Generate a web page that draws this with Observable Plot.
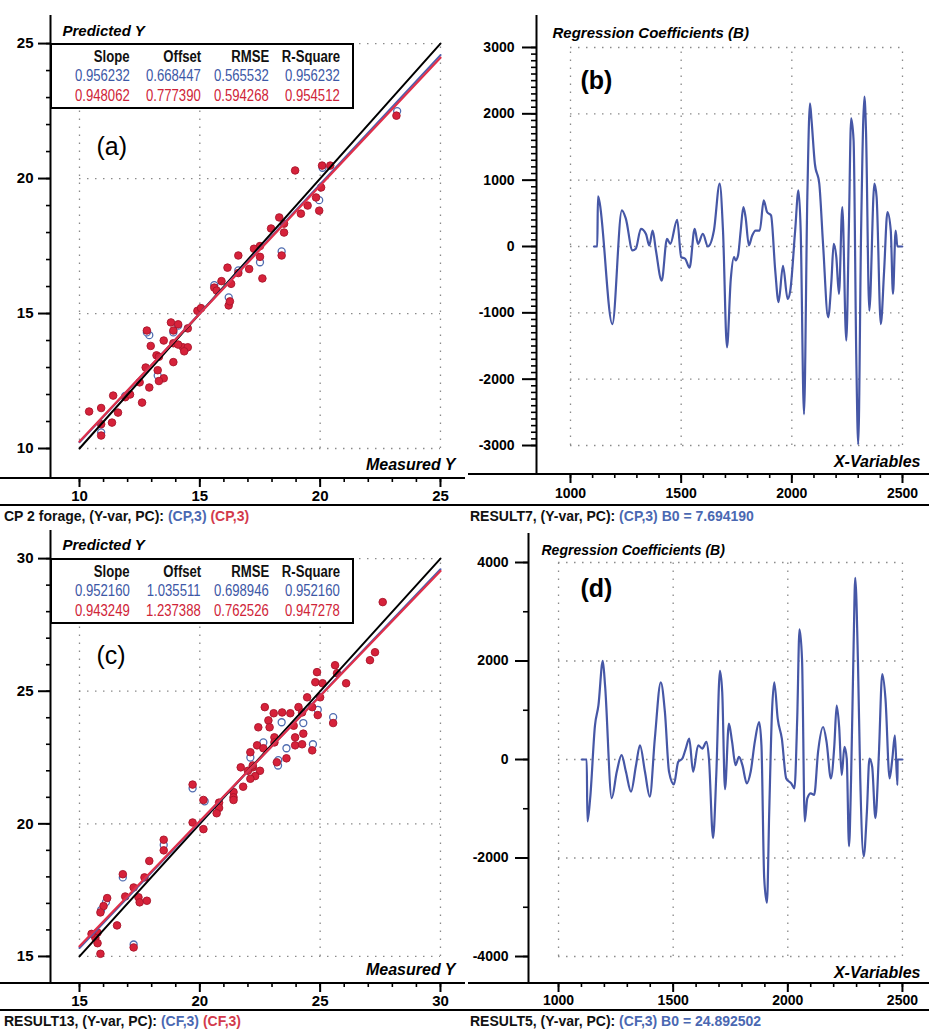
<!DOCTYPE html>
<html><head><meta charset="utf-8">
<script src="https://cdn.jsdelivr.net/npm/d3@7"></script>
<script src="https://cdn.jsdelivr.net/npm/@observablehq/plot@0.6"></script>
<style>
body{margin:0;background:#fff;}
#root{position:relative;width:929px;height:1031px;overflow:hidden;background:#fff;
  font-family:"Liberation Sans",Arial,sans-serif;}
.hl{position:absolute;height:2px;background:#000;}
.cap{position:absolute;font-weight:bold;font-size:14px;white-space:nowrap;line-height:16px;}
.stats{position:absolute;border:2px solid #000;background:#fff;box-sizing:border-box;}
.stats span{position:absolute;font-size:16px;line-height:17px;text-align:right;white-space:nowrap;
  transform:scaleX(0.82);transform-origin:right center;}
</style></head>
<body><div id="root"></div>
<script>
// ---------- data ----------
const statHeaders = ["Slope", "Offset", "RMSE", "R-Square"];
const statsA_cal = [0.956232, 0.668447, 0.565532, 0.956232];
const statsA_val = [0.948062, 0.777390, 0.594268, 0.954512];
const statsC_cal = [0.952160, 1.035511, 0.698946, 0.952160];
const statsC_val = [0.943249, 1.237388, 0.762526, 0.947278];

const aTicks = [10, 15, 20, 25];
const cTicks = [15, 20, 25, 30];
const bXTicks = [1000, 1500, 2000, 2500];
const bYTicks = [-3000, -2000, -1000, 0, 1000, 2000, 3000];
const dXTicks = [1000, 1500, 2000, 2500];
const dYTicks = [-4000, -2000, 0, 2000, 4000];

// panel (a): [measured, predicted]
const aRed = [[23.17,22.33],[18.96,20.30],[20.08,20.48],[20.42,20.48],[20.04,19.67],[19.83,19.30],[19.96,18.81],
 [19.48,19.0],[19.2,18.7],[18.3,18.56],[18.5,18.33],[18.5,18.0],[17.96,18.15],[17.5,17.5],[17.25,17.4],[18.4,17.15],
 [16.6,17.15],[17.5,17.1],[17.05,16.65],[16.6,16.5],[16.15,16.7],[17.6,16.3],[15.9,16.2],[15.6,15.96],[16.3,16.1],
 [15.7,15.85],[16.2,15.3],[16.25,15.45],[14.9,15.1],[13.8,14.67],[14.1,14.6],[14.5,14.45],[12.8,14.37],[13.9,14.37],
 [13.5,14.0],[12.96,13.8],[13.9,13.9],[14.3,13.75],[14.5,13.75],[14.35,13.6],[14.1,13.85],[13.2,13.45],[13.3,13.4],
 [13.9,13.2],[12.75,13.0],[13.25,12.9],[13.5,12.6],[13.3,12.5],[12.5,12.45],[12.9,12.26],[12.6,11.7],[11.9,11.9],
 [11.4,11.96],[11.6,11.33],[11.35,10.96],[10.9,11.5],[10.4,11.37],[10.9,10.9],[10.9,10.48],[12.1,12.0],[15.05,15.2]];
const aBlue = [[17.5,16.9],[16.2,15.6],[12.9,14.2],[19.96,19.2],[13.9,14.3],[14.1,14.55],[15.6,16.05],[13.25,12.7],
 [18.4,17.3],[20.1,20.4],[11.9,11.95],[10.9,10.6],[23.2,22.5],[16.6,16.6],[14.4,13.7],[12.8,14.3]];

// panel (c)
const cRed = [[27.6,28.36],[27.07,26.17],[27.28,26.47],[25.62,25.98],[25.7,25.68],[26.08,25.3],[24.87,25.72],[24.8,25.34],
 [25.1,25.3],[25.0,24.77],[24.46,24.77],[24.67,24.4],[24.9,24.1],[25.54,23.8],[24.1,24.4],[24.25,24.2],[23.76,24.17],
 [23.42,24.2],[23.07,24.17],[22.7,24.4],[22.85,23.9],[22.43,23.64],[22.9,23.64],[23.9,23.7],[23.1,23.26],[23.1,23.07],
 [23.96,23.26],[24.3,23.4],[23.96,22.96],[24.25,23.0],[24.67,22.77],[22.38,22.96],[22.64,22.85],[22.1,22.7],[23.2,22.32],
 [23.6,22.47],[21.7,22.13],[22.2,22.13],[22.5,22.0],[22.2,22.2],[22.0,22.0],[22.3,21.8],[22.1,21.7],[21.8,21.4],
 [21.4,21.2],[21.4,21.0],[21.4,20.9],[20.8,20.8],[20.8,20.6],[20.7,20.4],[20.15,20.9],[19.7,21.48],[19.7,20.05],
 [20.15,19.8],[18.5,19.4],[18.5,19.0],[17.9,18.6],[17.7,17.98],[16.8,18.1],[17.25,17.6],[16.9,17.26],[17.45,17.23],
 [17.5,17.04],[17.8,17.1],[16.15,17.2],[16.0,16.9],[15.87,16.66],[16.56,16.17],[15.75,15.9],[15.66,15.7],[15.75,15.5],
 [17.25,15.34],[15.87,15.1],[15.5,15.85]];
const cBlue = [[25.54,24.02],[23.4,23.83],[24.3,23.8],[24.7,23.0],[22.64,23.07],[23.6,22.85],[22.1,22.5],[23.26,22.4],
 [19.7,21.34],[16.8,17.98],[16.1,17.05],[23.25,22.2],[17.25,15.45],[24.9,24.3],[15.9,16.75],[18.5,19.2],[20.2,20.85]];

// panel (b): regression coefficients vs wavelength
const bWave = [1106,1121,1124,1130,1189,1232,1250,1280,1295,1318,1341,1356,1371,1386,1412,1436,1451,1482,1500,1518,1538,
 1561,1576,1598,1621,1648,1674,1689,1707,1724,1739,1746,1757,1769,1781,1791,1806,1821,1836,1855,1873,1888,1906,1925,1940,
 1960,1981,1993,2015,2030,2040,2055,2070,2082,2089,2104,2124,2141,2164,2179,2189,2201,2213,2228,2246,2258,2268,2279,2291,
 2300,2313,2328,2335,2350,2373,2383,2402,2417,2432,2447,2457,2469,2477,2499];
const bCoef = [0,0,756,690,-1170,545,420,-60,-35,267,190,15,240,-60,-515,115,40,403,-160,-185,-320,
 267,40,190,0,240,947,240,-1520,-500,-160,-210,-135,240,595,443,15,166,240,240,695,520,470,-360,-840,
 -290,-790,-665,240,847,240,-2530,746,2157,1905,1250,947,40,-1068,-514,40,-160,-715,595,-1420,343,1930,1600,-1620,
 -2985,240,2258,1754,-968,947,746,-1170,-363,520,240,-716,240,0,0];

// panel (d)
const dWave = [1101,1123,1126,1138,1159,1174,1193,1203,1232,1254,1275,1294,1316,1338,1355,1377,1398,1420,1446,1464,1482,
 1503,1522,1540,1555,1570,1587,1609,1627,1645,1656,1674,1688,1704,1714,1726,1743,1757,1772,1787,1802,1821,1838,1856,1875,
 1885,1897,1909,1919,1931,1941,1956,1974,1993,2015,2029,2041,2051,2062,2074,2085,2100,2115,2132,2154,2169,2188,2203,2213,
 2224,2235,2247,2257,2267,2276,2287,2294,2306,2316,2331,2345,2356,2368,2382,2397,2412,2426,2444,2456,2467,2478,2479,2500];
const dCoef = [0,0,-1258,-787,693,1097,2005,1500,-787,-250,87,-250,-653,-115,290,-250,-754,424,1568,962,-250,
 -505,-47,20,222,424,-250,290,222,357,20,-1595,-316,1800,1366,-600,727,357,-115,54,-115,-485,-250,357,760,
 290,-2403,-2907,-1057,962,1568,828,424,-384,-485,-585,828,2645,2040,-1258,-787,-686,-720,155,660,357,-384,290,1097,
 660,-316,256,20,-1763,-384,2308,3688,1972,-384,-1965,-1057,20,-148,-1191,87,1736,1232,-384,20,491,-518,0,0];

// ---------- styles ----------
const BLUE = "#4657a6", RED = "#d6223a", CAPBLUE = "#4a68b2", CAPRED = "#d33a4c";
const SANS = '"Liberation Sans",Arial,sans-serif';
const root = document.getElementById("root");

function place(el, left, top) {
  el.style.position = "absolute"; el.style.left = left + "px"; el.style.top = top + "px";
  root.appendChild(el); return el;
}
function hline(left, top, width) {
  const d = document.createElement("div"); d.className = "hl";
  d.style.left = left + "px"; d.style.top = top + "px"; d.style.width = width + "px";
  root.appendChild(d);
}
function caption(left, top, parts) {
  const d = document.createElement("div"); d.className = "cap";
  d.style.left = left + "px"; d.style.top = top + "px";
  parts.forEach(([t, c]) => { const s = document.createElement("span"); s.textContent = t; s.style.color = c; d.appendChild(s); });
  root.appendChild(d);
}
function statsBox(left, top, cal, val) {
  const d = document.createElement("div"); d.className = "stats";
  d.style.left = left + "px"; d.style.top = top + "px"; d.style.width = "304px"; d.style.height = "66px";
  const rights = [222, 151, 83, 12];
  const rows = [[statHeaders, "#111", "bold", 3], [cal.map(v => v.toFixed(6)), "#3d58a6", "normal", 22], [val.map(v => v.toFixed(6)), "#cf2438", "normal", 42]];
  rows.forEach(([vals, color, w, top]) => vals.forEach((t, i) => {
    const s = document.createElement("span"); s.textContent = t; s.style.color = color; s.style.fontWeight = w;
    s.style.right = rights[i] + "px"; s.style.top = top + "px"; d.appendChild(s);
  }));
  root.appendChild(d);
}

const grid = {stroke: "#8a8a8a", strokeWidth: 1.3, strokeDasharray: "1.5 6.5"};
const fmt = d => String(d);
const blank = () => "";

function scatterPanel(o) {
  const lo = o.ticks[0], hi = o.ticks[o.ticks.length - 1];
  const minor = d3.range(lo, hi + 0.5, 1);
  const reg = s => [[lo, s[1] + s[0] * lo], [hi, s[1] + s[0] * hi]];
  return Plot.plot({
    width: o.width, height: o.height,
    marginLeft: 50, marginRight: 0, marginTop: 15, marginBottom: 27,
    x: {domain: o.xdom, label: null}, y: {domain: o.ydom, label: null},
    style: {fontFamily: SANS, fontSize: "15px", fontWeight: "bold", color: "#000", background: "transparent"},
    marks: [
      Plot.ruleX(o.ticks, {y1: lo, y2: hi, ...grid}),
      Plot.ruleY(o.ticks, {x1: lo, x2: hi, ...grid}),
      Plot.dot(o.blue, {r: 3.5, fill: "white", stroke: "#4f6cb0", strokeWidth: 1.3}),
      Plot.dot(o.red, {r: 3.8, fill: RED, stroke: "#a8142a", strokeWidth: 0.9}),
      Plot.line([[lo, lo], [hi, hi]], {stroke: "#000", strokeWidth: 2}),
      Plot.line(reg(o.cal), {stroke: "#4f5fae", strokeWidth: 2}),
      Plot.line(reg(o.val), {stroke: "#e0304a", strokeWidth: 2.2}),
      Plot.ruleX([o.xdom[0]], {stroke: "#000", strokeWidth: 2}),
      Plot.axisY({ticks: minor, tickSize: 4, strokeWidth: 1.6, tickFormat: blank, label: null}),
      Plot.axisX({ticks: minor, tickSize: 4, strokeWidth: 1.6, tickFormat: blank, label: null}),
      Plot.axisY({ticks: o.ticks, tickSize: 12, tickPadding: 5, strokeWidth: 2, tickFormat: fmt, label: null}),
      Plot.axisX({ticks: o.ticks, tickSize: 9, tickPadding: 3, strokeWidth: 2, tickFormat: fmt, label: null}),
      Plot.text(["Predicted Y"], {frameAnchor: "top-left", dx: 12, dy: o.dyPred, lineAnchor: "middle", textAnchor: "start", fontStyle: "italic", fontWeight: "bold", fontSize: 15}),
      Plot.text([o.tag], {frameAnchor: "top-left", dx: 46, dy: o.dyTag, lineAnchor: "middle", textAnchor: "start", fontWeight: "normal", fontSize: 25}),
      Plot.text(["Measured Y"], {frameAnchor: "bottom-right", dx: -10, dy: -14, lineAnchor: "middle", textAnchor: "end", fontStyle: "italic", fontWeight: "bold", fontSize: 16})
    ]
  });
}

function spectrumPanel(o) {
  const data = o.wave.map((w, i) => ({w, b: o.coef[i]}));
  const xminor = d3.range(1000, 2501, 100);
  const yminor = d3.range(o.yticks[0], o.yticks[o.yticks.length - 1] + 1, o.yminorStep);
  const gy = o.gridY;
  return Plot.plot({
    width: o.width, height: o.height,
    marginLeft: o.ml, marginRight: 0, marginTop: o.mt, marginBottom: o.mb,
    x: {domain: o.xdom, label: null}, y: {domain: o.ydom, label: null},
    style: {fontFamily: SANS, fontSize: "14px", fontWeight: "bold", color: "#000", background: "transparent"},
    marks: [
      Plot.ruleX(o.xticks, {y1: gy[0], y2: gy[gy.length - 1], ...grid}),
      Plot.ruleY(gy, {x1: 1000, x2: 2500, ...grid}),
      Plot.line(data, {x: "w", y: "b", stroke: BLUE, strokeWidth: 2.2, curve: "monotone-x"}),
      Plot.ruleX([o.xdom[0]], {stroke: "#000", strokeWidth: 2}),
      Plot.axisY({ticks: yminor, tickSize: 5, strokeWidth: 1.6, tickFormat: blank, label: null}),
      Plot.axisX({ticks: xminor, tickSize: 4, strokeWidth: 1.6, tickFormat: blank, label: null}),
      Plot.axisY({ticks: o.yticks, tickSize: o.yTickSize, tickPadding: o.yPad, strokeWidth: 2, tickFormat: fmt, label: null}),
      Plot.axisX({ticks: o.xticks, tickSize: 9, tickPadding: o.xPad, strokeWidth: 2, tickFormat: fmt, label: null}),
      Plot.text(["Regression Coefficients (B)"], {frameAnchor: "top-left", dx: o.titleDx, dy: o.titleDy, lineAnchor: "middle", textAnchor: "start", fontStyle: "italic", fontWeight: "bold", fontSize: o.titleSize}),
      Plot.text([o.tag], {frameAnchor: "top-left", dx: o.tagDx, dy: o.tagDy, lineAnchor: "middle", textAnchor: "start", fontWeight: "bold", fontSize: 25}),
      Plot.text(["X-Variables"], {frameAnchor: "bottom-right", dx: -9, dy: o.xvDy, lineAnchor: "middle", textAnchor: "end", fontStyle: "italic", fontWeight: "bold", fontSize: 16})
    ]
  });
}

// (a)
place(scatterPanel({width: 465, height: 505, xdom: [8.795, 26.04], ydom: [8.889, 26.04], ticks: aTicks,
  red: aRed, blue: aBlue, cal: statsA_cal, val: statsA_val, tag: "(a)", dyPred: 16, dyTag: 131}), 0, 0);
// (c)
place(scatterPanel({width: 465, height: 495, xdom: [13.795, 31.04], ydom: [13.98, 31.06], ticks: cTicks,
  red: cRed, blue: cBlue, cal: statsC_cal, val: statsC_val, tag: "(c)", dyPred: 15, dyTag: 125}), 0, 515);
// (b)
place(spectrumPanel({width: 464, height: 505, ml: 71, mt: 15, mb: 31, xdom: [846.4, 2622], ydom: [-3437, 3482],
  wave: bWave, coef: bCoef, xticks: bXTicks, yticks: bYTicks, gridY: bYTicks, yminorStep: 100,
  yTickSize: 14, yPad: 8, xPad: 5, titleDx: 16, titleDy: 18, titleSize: 15, tag: "(b)", tagDx: 44, tagDy: 65, xvDy: -13}), 465, 0);
// (d)
place(spectrumPanel({width: 464, height: 495, ml: 63, mt: 18, mb: 27, xdom: [869, 2618], ydom: [-4548, 4589],
  wave: dWave, coef: dCoef, xticks: dXTicks, yticks: dYTicks, gridY: dYTicks, yminorStep: 1000,
  yTickSize: 13, yPad: 7, xPad: 3, titleDx: 13, titleDy: 17, titleSize: 14, tag: "(d)", tagDx: 52, tagDy: 55, xvDy: -11}), 465, 515);

// stats boxes
statsBox(50, 43, statsA_cal, statsA_val);
statsBox(50, 558, statsC_cal, statsC_val);

// axis base lines and separators
hline(0, 477, 465); hline(468, 473, 461);
hline(0, 982, 465); hline(468, 982, 461);
hline(0, 504, 929); hline(0, 1009, 929);

caption(4, 508, [["CP 2 forage, (Y-var, PC): ", "#111"], ["(CP,3) ", CAPBLUE], ["(CP,3)", CAPRED]]);
caption(470, 508, [["RESULT7, (Y-var, PC): ", "#111"], ["(CP,3) B0 = 7.694190", CAPBLUE]]);
caption(4, 1013, [["RESULT13, (Y-var, PC): ", "#111"], ["(CF,3) ", CAPBLUE], ["(CF,3)", CAPRED]]);
caption(470, 1013, [["RESULT5, (Y-var, PC): ", "#111"], ["(CF,3) B0 = 24.892502", CAPBLUE]]);
</script></body></html>
